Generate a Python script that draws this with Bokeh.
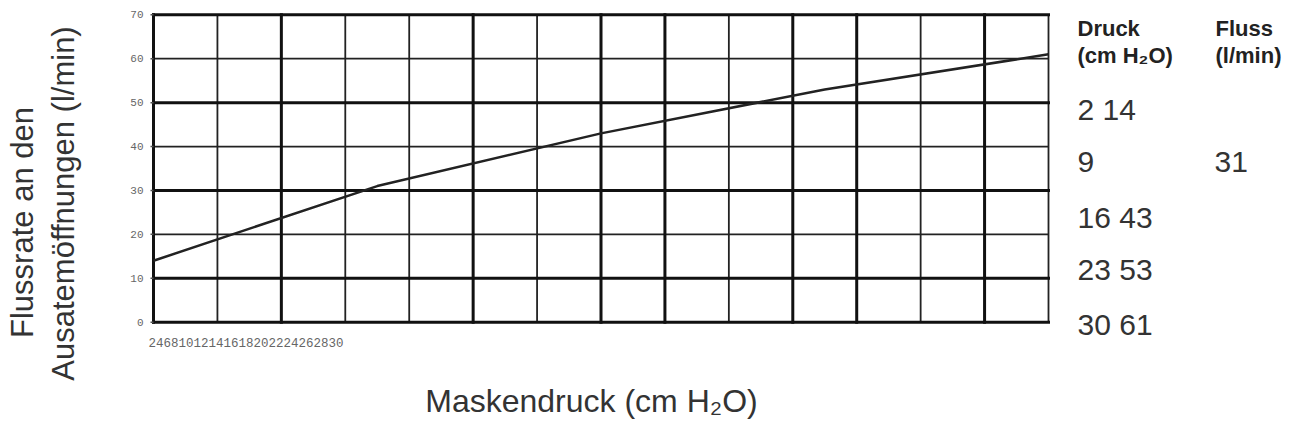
import math
from bokeh.plotting import figure
from bokeh.models import Range1d
from bokeh.embed import file_html
from bokeh.resources import INLINE
from bokeh.core.properties import value

# ---- data ----
pressure = [2, 9, 16, 23, 30]          # Maskendruck (cm H2O)
flow = [14, 31, 43, 53, 61]            # Fluss (l/min)
x_ticks = list(range(2, 31, 2))
y_ticks = list(range(0, 71, 10))
x_grid_thick = [2, 6, 12, 16, 18, 22, 24, 28]
x_grid_thin = [4, 8, 10, 14, 20, 26, 30]
y_grid_thick = [0, 10, 30, 50, 70]
y_grid_thin = [20, 40, 60]
x_title = "Maskendruck (cm H₂O)"
y_title = ["Flussrate an den", "Ausatemöffnungen (l/min)"]
table_head_1 = ["Druck", "(cm H₂O)"]
table_head_2 = ["Fluss", "(l/min)"]

# table rows as printed in the reference (second row split across columns)
col1 = [f"{p} {f}" if i != 1 else f"{p}" for i, (p, f) in enumerate(zip(pressure, flow))]
col2 = [str(f) if i == 1 else "" for i, f in enumerate(flow)]

# ---- layout: the frame fills the canvas; chart box placed by its pixel edges ----
W, H = 1290, 421
BOX_L, BOX_R, BOX_T, BOX_B = 153, 1048, 14.3, 321.7
X0, X1 = x_ticks[0], x_ticks[-1]
Y0, Y1 = y_ticks[0], y_ticks[-1]
sx = (BOX_R - BOX_L) / (X1 - X0)
sy = (BOX_B - BOX_T) / (Y1 - Y0)
x_range = Range1d(X0 - BOX_L / sx, X0 + (W - BOX_L) / sx)
y_range = Range1d(Y0 - (H - BOX_B) / sy, Y1 + BOX_T / sy)


def dx(px):
    return X0 + (px - BOX_L) / sx


def dy(py):
    return Y0 + (BOX_B - py) / sy


p = figure(width=W, height=H, x_range=x_range, y_range=y_range,
           output_backend="svg", toolbar_location=None,
           min_border=0, min_border_left=0, min_border_right=0,
           min_border_top=0, min_border_bottom=0)
p.axis.visible = False
p.grid.visible = False
p.outline_line_color = None
p.background_fill_color = "white"
p.border_fill_color = "white"

# grid lines
p.segment(x0=x_grid_thin, y0=[Y0] * len(x_grid_thin), x1=x_grid_thin, y1=[Y1] * len(x_grid_thin),
          line_color="#222222", line_width=1.8)
p.segment(x0=[X0] * len(y_grid_thin), y0=y_grid_thin, x1=[X1] * len(y_grid_thin), y1=y_grid_thin,
          line_color="#222222", line_width=1.8)
p.segment(x0=x_grid_thick, y0=[Y0] * len(x_grid_thick), x1=x_grid_thick, y1=[Y1] * len(x_grid_thick),
          line_color="#111111", line_width=3, line_cap="square")
p.segment(x0=[X0] * len(y_grid_thick), y0=y_grid_thick, x1=[X1] * len(y_grid_thick), y1=y_grid_thick,
          line_color="#111111", line_width=3, line_cap="square")

# y ticks and tick labels
p.segment(x0=[dx(BOX_L - 3)] * len(y_ticks), y0=y_ticks, x1=[X0] * len(y_ticks), y1=y_ticks,
          line_color="#555555", line_width=1.5)
p.text(x=[dx(BOX_L - 10)] * len(y_ticks), y=y_ticks, text=[str(t) for t in y_ticks],
       text_font=value("Liberation Mono"), text_font_size=value("11px"),
       text_color="#666666", text_align="right", text_baseline="middle")

# squeezed x tick labels
p.text(x=[dx(148)], y=[dy(342)], text=["".join(str(t) for t in x_ticks)],
       text_font=value("Liberation Mono"), text_font_size=value("12.5px"),
       text_color="#666666", text_align="left", text_baseline="middle")

# data line
p.line(pressure, flow, line_width=2.5, line_color="#222222")

K = 0.37  # empirical baseline correction of the text glyph (fraction of font size)


def lab(px, py, text, size, angle=0.0, align="left", bold=False, color="#333333"):
    if angle:
        px = px - K * size
    else:
        py = py - K * size
    p.text(x=[dx(px)], y=[dy(py)], text=[text], angle=angle,
           text_font=value("Liberation Sans"), text_font_size=value(f"{size}px"),
           text_font_style="bold" if bold else "normal",
           text_color=color, text_align=align, text_baseline="alphabetic")


# axis titles
lab(591, 412, x_title, 32, align="center")
lab(33, 222, y_title[0], 31, angle=math.pi / 2, align="center")
lab(74, 203, y_title[1], 31, angle=math.pi / 2, align="center")

# right-hand table
lab(1077, 36, table_head_1[0], 22, bold=True, color="#222222")
lab(1077, 63, table_head_1[1], 22, bold=True, color="#222222")
lab(1215, 36, table_head_2[0], 22, bold=True, color="#222222")
lab(1215, 63, table_head_2[1], 22, bold=True, color="#222222")
row_base = [120, 173, 228, 280, 335]
for t1, t2, b in zip(col1, col2, row_base):
    lab(1077, b, t1, 30)
    if t2:
        lab(1214, b, t2, 30)

open("out.html", "w").write(file_html(p, INLINE))
